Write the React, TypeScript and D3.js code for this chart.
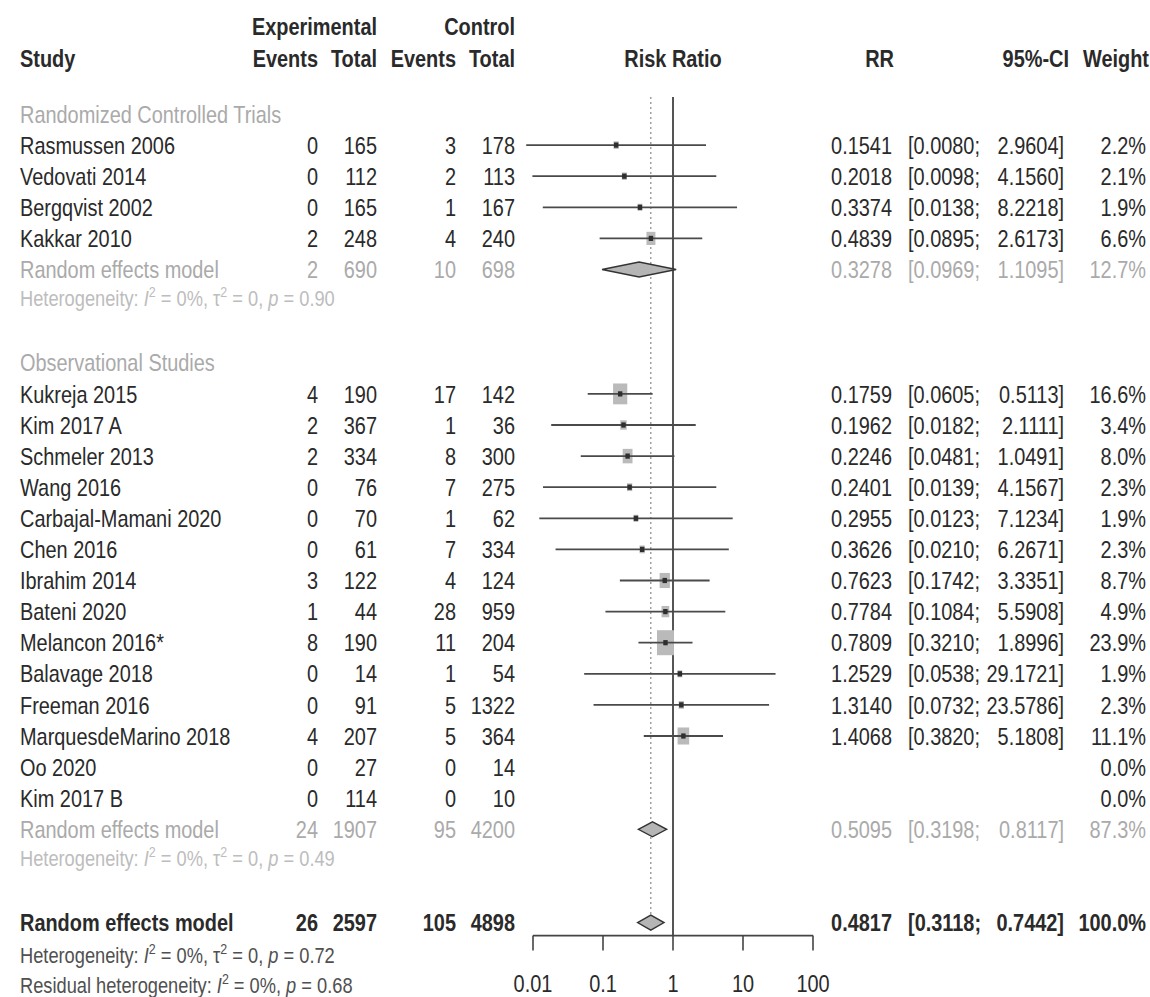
import { useEffect } from 'react';
import * as d3 from 'd3';

const W = 1150;
const H = 997;
const FS = 24;
const SX = 0.83;
const BOX_ASPECT = 0.68;

// randomized controlled trials
const rctStudies = ['Rasmussen 2006', 'Vedovati 2014', 'Bergqvist 2002', 'Kakkar 2010'];
const rctExpEvents = [0, 0, 0, 2];
const rctExpTotal = [165, 112, 165, 248];
const rctCtrlEvents = [3, 2, 1, 4];
const rctCtrlTotal = [178, 113, 167, 240];
const rctRR = [0.1541, 0.2018, 0.3374, 0.4839];
const rctLower = [0.008, 0.0098, 0.0138, 0.0895];
const rctUpper = [2.9604, 4.156, 8.2218, 2.6173];
const rctWeight = [2.2, 2.1, 1.9, 6.6];

// observational studies
const obsStudies = [
    'Kukreja 2015', 'Kim 2017 A', 'Schmeler 2013', 'Wang 2016', 'Carbajal-Mamani 2020', 'Chen 2016', 'Ibrahim 2014',
    'Bateni 2020', 'Melancon 2016*', 'Balavage 2018', 'Freeman 2016', 'MarquesdeMarino 2018', 'Oo 2020', 'Kim 2017 B'
];
const obsExpEvents = [4, 2, 2, 0, 0, 0, 3, 1, 8, 0, 0, 4, 0, 0];
const obsExpTotal = [190, 367, 334, 76, 70, 61, 122, 44, 190, 14, 91, 207, 27, 114];
const obsCtrlEvents = [17, 1, 8, 7, 1, 7, 4, 28, 11, 1, 5, 5, 0, 0];
const obsCtrlTotal = [142, 36, 300, 275, 62, 334, 124, 959, 204, 54, 1322, 364, 14, 10];
const obsRR = [0.1759, 0.1962, 0.2246, 0.2401, 0.2955, 0.3626, 0.7623, 0.7784, 0.7809, 1.2529, 1.314, 1.4068, null, null];
const obsLower = [0.0605, 0.0182, 0.0481, 0.0139, 0.0123, 0.021, 0.1742, 0.1084, 0.321, 0.0538, 0.0732, 0.382, null, null];
const obsUpper = [0.5113, 2.1111, 1.0491, 4.1567, 7.1234, 6.2671, 3.3351, 5.5908, 1.8996, 29.1721, 23.5786, 5.1808, null, null];
const obsWeight = [16.6, 3.4, 8.0, 2.3, 1.9, 2.3, 8.7, 4.9, 23.9, 1.9, 2.3, 11.1, 0.0, 0.0];

// pooled rows: RCT subgroup, observational subgroup, overall
const pooledExpEvents = [2, 24, 26];
const pooledExpTotal = [690, 1907, 2597];
const pooledCtrlEvents = [10, 95, 105];
const pooledCtrlTotal = [698, 4200, 4898];
const pooledRR = [0.3278, 0.5095, 0.4817];
const pooledLower = [0.0969, 0.3198, 0.3118];
const pooledUpper = [1.1095, 0.8117, 0.7442];
const pooledWeight = [12.7, 87.3, 100.0];
const hetP = ['0.90', '0.49', '0.72'];
const residualP = '0.68';

const subgroupNames = ['Randomized Controlled Trials', 'Observational Studies'];
const tickValues = [0.01, 0.1, 1, 10, 100];
const tickLabels = ['0.01', '0.1', '1', '10', '100'];

const INK = '#2a2a2a';
const GREY = '#aaaaaa';
const HETGREY = '#bdbdbd';

type Study = {
    name: string; ee: number; et: number; ce: number; ct: number;
    rr: number | null; lo: number | null; hi: number | null; w: number;
};

const toStudies = (names: string[], ee: number[], et: number[], ce: number[], ct: number[], rr: (number | null)[], lo: (number | null)[], hi: (number | null)[], w: number[]): Study[] =>
    names.map((name, i) => ({ name, ee: ee[i], et: et[i], ce: ce[i], ct: ct[i], rr: rr[i], lo: lo[i], hi: hi[i], w: w[i] }));

const rct = toStudies(rctStudies, rctExpEvents, rctExpTotal, rctCtrlEvents, rctCtrlTotal, rctRR, rctLower, rctUpper, rctWeight);
const obs = toStudies(obsStudies, obsExpEvents, obsExpTotal, obsCtrlEvents, obsCtrlTotal, obsRR, obsLower, obsUpper, obsWeight);

// column positions
const COL = { name: 20, ee: 318, et: 377, ce: 456, ct: 515, rr: 892, ciL: 908, ciR: 1064, w: 1146 };

function Txt({ x, y, a = 'start', bold = false, c = INK, fs = FS, children }: any) {
    return (
        <text transform={`translate(${x},${y}) scale(${SX},1)`} textAnchor={a} fontWeight={bold ? 700 : 400} fill={c} fontSize={fs} dy="0.36em">
            {children}
        </text>
    );
}

function Het({ y, c, p, tau = true, prefix = 'Heterogeneity: ' }: any) {
    return (
        <text transform={`translate(${COL.name},${y}) scale(${SX},1)`} fill={c} fontSize={22} dy="0.36em">
            {prefix}
            <tspan fontStyle="italic">I</tspan>
            <tspan dy={-9} fontSize={15}>2</tspan>
            <tspan dy={9}>{' = 0%, '}</tspan>
            {tau ? (
                <>
                    τ<tspan dy={-9} fontSize={15}>2</tspan>
                    <tspan dy={9}>{' = 0, '}</tspan>
                </>
            ) : null}
            <tspan fontStyle="italic">p</tspan>
            {` = ${p}`}
        </text>
    );
}

export default function App() {
    useEffect(() => {
        document.body.style.margin = '0';
    }, []);

    const x = d3.scaleLog().domain([0.01, 100]).range([533, 813]);
    const y = d3.scaleLinear().domain([0, 1]).range([114, 145.1]);
    const maxW = d3.max([...rctWeight, ...obsWeight]) as number;
    const box = d3.scaleSqrt().domain([0, maxW]).range([0, 25]);

    const axisY = y(26) + 13;
    const x1 = x(1);

    const fmt4 = d3.format('.4f');
    const fmtW = (v: number) => `${v.toFixed(1)}%`;

    const numberCols = (yy: number, ee: number, et: number, ce: number, ct: number, c: string, bold = false) => (
        <>
            <Txt x={COL.ee} y={yy} a="end" c={c} bold={bold}>{ee}</Txt>
            <Txt x={COL.et} y={yy} a="end" c={c} bold={bold}>{et}</Txt>
            <Txt x={COL.ce} y={yy} a="end" c={c} bold={bold}>{ce}</Txt>
            <Txt x={COL.ct} y={yy} a="end" c={c} bold={bold}>{ct}</Txt>
        </>
    );

    const effectCols = (yy: number, rr: number, lo: number, hi: number, w: number, c: string, bold = false) => (
        <>
            <Txt x={COL.rr} y={yy} a="end" c={c} bold={bold}>{fmt4(rr)}</Txt>
            <Txt x={COL.ciL} y={yy} c={c} bold={bold}>{`[${fmt4(lo)};`}</Txt>
            <Txt x={COL.ciR} y={yy} a="end" c={c} bold={bold}>{`${fmt4(hi)}]`}</Txt>
            <Txt x={COL.w} y={yy} a="end" c={c} bold={bold}>{fmtW(w)}</Txt>
        </>
    );

    const studyRow = (s: Study, row: number) => {
        const yy = y(row);
        const side = box(s.w);
        return (
            <g key={s.name}>
                <Txt x={COL.name} y={yy}>{s.name}</Txt>
                {numberCols(yy, s.ee, s.et, s.ce, s.ct, INK)}
                {s.rr !== null && s.lo !== null && s.hi !== null ? (
                    <>
                        <rect x={x(s.rr) - (side * BOX_ASPECT) / 2} y={yy - side / 2} width={side * BOX_ASPECT} height={side} fill="#bababa" />
                        <line x1={x(s.lo)} x2={x(s.hi)} y1={yy} y2={yy} stroke="#4a4a4a" strokeWidth={1.8} />
                        <rect x={x(s.rr) - 2.2} y={yy - 2.6} width={4.4} height={5.2} fill="#2e2e2e" />
                        <Txt x={COL.rr} y={yy} a="end">{fmt4(s.rr)}</Txt>
                        <Txt x={COL.ciL} y={yy}>{`[${fmt4(s.lo)};`}</Txt>
                        <Txt x={COL.ciR} y={yy} a="end">{`${fmt4(s.hi)}]`}</Txt>
                    </>
                ) : null}
                <Txt x={COL.w} y={yy} a="end">{fmtW(s.w)}</Txt>
            </g>
        );
    };

    const diamond = (k: number, yy: number) => {
        const h = 7.5;
        const d = `M${x(pooledLower[k])},${yy} L${x(pooledRR[k])},${yy - h} L${x(pooledUpper[k])},${yy} L${x(pooledRR[k])},${yy + h} Z`;
        return <path d={d} fill="#b5b5b5" stroke="#333" strokeWidth={1.4} />;
    };

    const pooledRow = (k: number, row: number, c: string, bold: boolean) => {
        const yy = y(row);
        return (
            <g>
                <Txt x={COL.name} y={yy} c={c} bold={bold}>Random effects model</Txt>
                {numberCols(yy, pooledExpEvents[k], pooledExpTotal[k], pooledCtrlEvents[k], pooledCtrlTotal[k], c, bold)}
                {diamond(k, yy)}
                {effectCols(yy, pooledRR[k], pooledLower[k], pooledUpper[k], pooledWeight[k], c, bold)}
            </g>
        );
    };

    const obsStart = 9;

    return (
        <svg width={W} height={H} style={{ display: 'block', fontFamily: '"Liberation Sans", Arial, sans-serif', background: '#fff' }}>
            {/* header */}
            <Txt x={COL.et} y={26} a="end" bold>Experimental</Txt>
            <Txt x={COL.ct} y={26} a="end" bold>Control</Txt>
            <Txt x={COL.name} y={58} bold>Study</Txt>
            <Txt x={COL.ee} y={58} a="end" bold>Events</Txt>
            <Txt x={COL.et} y={58} a="end" bold>Total</Txt>
            <Txt x={COL.ce} y={58} a="end" bold>Events</Txt>
            <Txt x={COL.ct} y={58} a="end" bold>Total</Txt>
            <Txt x={x1} y={58} a="middle" bold>Risk Ratio</Txt>
            <Txt x={COL.rr + 2} y={58} a="end" bold>RR</Txt>
            <Txt x={COL.ciR + 5} y={58} a="end" bold>95%-CI</Txt>
            <Txt x={COL.w + 3} y={58} a="end" bold>Weight</Txt>

            {/* reference lines */}
            <line x1={x1} x2={x1} y1={97} y2={axisY} stroke="#555" strokeWidth={2} />
            <line x1={x(pooledRR[2])} x2={x(pooledRR[2])} y1={97} y2={y(26) - 7} stroke="#8a8a8a" strokeWidth={1.2} strokeDasharray="2 3" />

            {/* subgroup 1 */}
            <Txt x={COL.name} y={y(0)} c={GREY}>{subgroupNames[0]}</Txt>
            {rct.map((s, i) => studyRow(s, 1 + i))}
            {pooledRow(0, 5, GREY, false)}
            <Het y={y(5.92)} c={HETGREY} p={hetP[0]} />

            {/* subgroup 2 */}
            <Txt x={COL.name} y={y(8)} c={GREY}>{subgroupNames[1]}</Txt>
            {obs.map((s, i) => studyRow(s, obsStart + i))}
            {pooledRow(1, 23, GREY, false)}
            <Het y={y(23.92)} c={HETGREY} p={hetP[1]} />

            {/* overall */}
            {pooledRow(2, 26, INK, true)}
            <Het y={y(27.05)} c="#505050" p={hetP[2]} />
            <Het y={y(28.0)} c="#505050" p={residualP} tau={false} prefix="Residual heterogeneity: " />

            {/* axis */}
            <line x1={x(0.01)} x2={x(100)} y1={axisY} y2={axisY} stroke="#444" strokeWidth={1.6} />
            {tickValues.map((t, i) => (
                <g key={t}>
                    <line x1={x(t)} x2={x(t)} y1={axisY} y2={axisY + 15} stroke="#444" strokeWidth={1.6} />
                    <Txt x={x(t)} y={axisY + 48} a="middle">{tickLabels[i]}</Txt>
                </g>
            ))}
        </svg>
    );
}
